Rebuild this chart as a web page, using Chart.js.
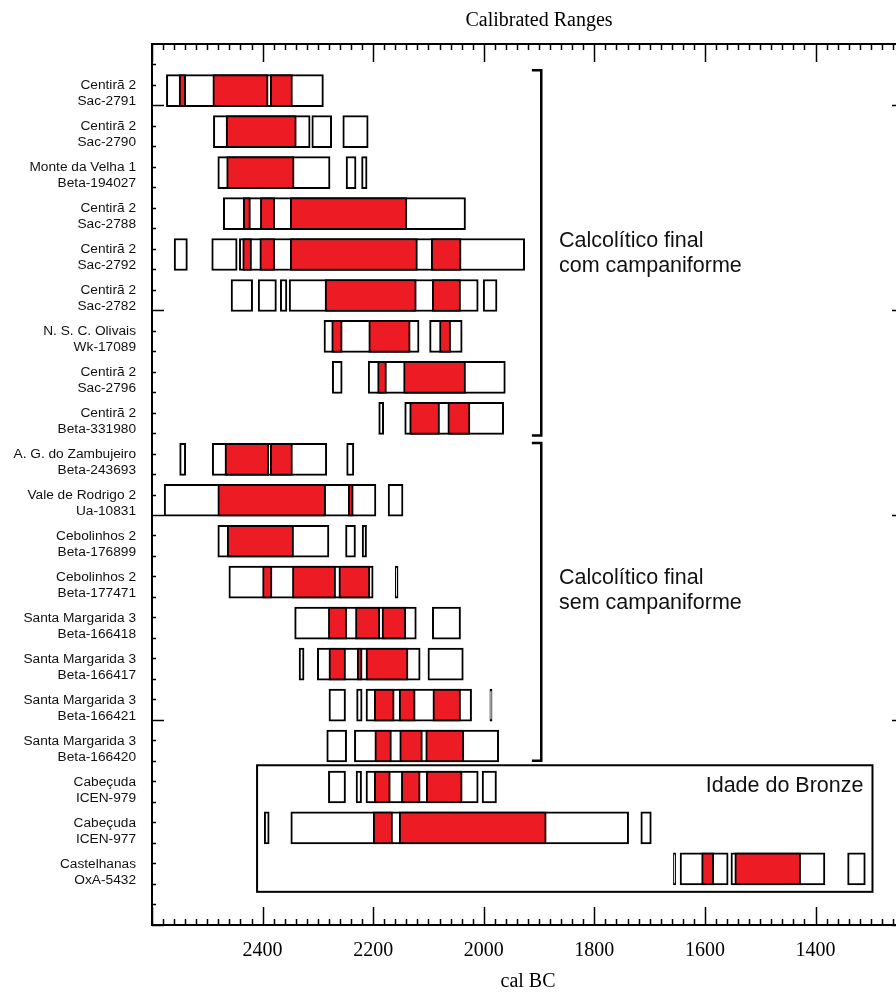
<!DOCTYPE html>
<html>
<head>
<meta charset="utf-8">
<script src="https://cdn.jsdelivr.net/npm/chart.js@4.4.1/dist/chart.umd.min.js"></script>
<style>
  html, body { margin: 0; padding: 0; background: #fff; overflow: hidden; width: 896px; height: 992px; }
  #wrap { width: 910px; height: 992px; }
</style>
</head>
<body>
<div id="wrap"><canvas id="chart-ranges" width="910" height="992"></canvas></div>
<script>
// samples, top to bottom
const sites = ['Centirã 2', 'Centirã 2', 'Monte da Velha 1', 'Centirã 2', 'Centirã 2', 'Centirã 2',
  'N. S. C. Olivais', 'Centirã 2', 'Centirã 2', 'A. G. do Zambujeiro', 'Vale de Rodrigo 2',
  'Cebolinhos 2', 'Cebolinhos 2', 'Santa Margarida 3', 'Santa Margarida 3', 'Santa Margarida 3',
  'Santa Margarida 3', 'Cabeçuda', 'Cabeçuda', 'Castelhanas'];
const labCodes = ['Sac-2791', 'Sac-2790', 'Beta-194027', 'Sac-2788', 'Sac-2792', 'Sac-2782',
  'Wk-17089', 'Sac-2796', 'Beta-331980', 'Beta-243693', 'Ua-10831', 'Beta-176899', 'Beta-177471',
  'Beta-166418', 'Beta-166417', 'Beta-166421', 'Beta-166420', 'ICEN-979', 'ICEN-977', 'OxA-5432'];

// 95.4% ranges (cal BC), white boxes
const range95 = [
  [[2574, 2290]],
  [[2489, 2314], [2311, 2275], [2255, 2209]],
  [[2481, 2278], [2249, 2231], [2221, 2211]],
  [[2471, 2033]],
  [[2560, 2536], [2492, 2446], [2442, 1926]],
  [[2457, 2418], [2408, 2375], [2368, 2356], [2352, 2010], [2001, 1976]],
  [[2289, 2117], [2098, 2039]],
  [[2274, 2256], [2209, 1961]],
  [[2190, 2181], [2143, 1964]],
  [[2550, 2539], [2491, 2284], [2248, 2235]],
  [[2578, 2195], [2173, 2146]],
  [[2481, 2280], [2250, 2232], [2220, 2212]],
  [[2461, 2200], [2160, 2155]],
  [[2342, 2122], [2093, 2042]],
  [[2334, 2325], [2301, 2115], [2101, 2037]],
  [[2280, 2250], [2230, 2220], [2213, 2022], [1989, 1985]],
  [[2284, 2248], [2234, 1973]],
  [[2281, 2250], [2231, 2221], [2213, 2010], [2003, 1977]],
  [[2397, 2388], [2349, 1738], [1716, 1697]],
  [[1657, 1653], [1645, 1558], [1553, 1383], [1342, 1310]]
];

// 68.2% ranges (cal BC), red boxes
const range68 = [
  [[2551, 2539], [2490, 2390], [2386, 2346]],
  [[2466, 2339]],
  [[2465, 2343]],
  [[2435, 2422], [2404, 2378], [2350, 2139]],
  [[2436, 2420], [2405, 2378], [2350, 2120], [2095, 2041]],
  [[2287, 2122], [2093, 2042]],
  [[2275, 2256], [2208, 2133], [2080, 2060]],
  [[2192, 2176], [2145, 2033]],
  [[2134, 2080], [2065, 2025]],
  [[2468, 2389], [2386, 2346]],
  [[2481, 2286], [2245, 2236]],
  [[2464, 2344]],
  [[2400, 2383], [2346, 2268], [2262, 2206]],
  [[2281, 2248], [2232, 2188], [2184, 2141]],
  [[2280, 2250], [2229, 2220], [2213, 2137]],
  [[2198, 2162], [2153, 2124], [2092, 2042]],
  [[2197, 2167], [2152, 2111], [2105, 2036]],
  [[2198, 2169], [2149, 2115], [2104, 2039]],
  [[2200, 2165], [2153, 1887]],
  [[1606, 1584], [1546, 1427]]
];

const yearTicks = [2400, 2200, 2000, 1800, 1600, 1400];

// group brackets and labels (years / row units)
const groups = [
  { from: -0.5, to: 8.42, lines: ['Calcolítico final', 'com campaniforme'], row: 3.82 },
  { from: 8.6, to: 16.36, lines: ['Calcolítico final', 'sem campaniforme'], row: 12.05 }
];
const bronze = { from: 2410, to: 1297, top: 16.47, bottom: 19.56, label: 'Idade do Bronze' };

const toBars = list => list.flatMap((ranges, i) => ranges.map(r => ({ x: r, y: i })));

const SANS = "'Liberation Sans', Arial, sans-serif";
const SERIF = "'Liberation Serif', 'Times New Roman', serif";

// frame, inward ticks, brackets, notes
const decorations = {
  id: 'decorations',
  afterDatasetsDraw(chart) {
    const { ctx, chartArea: a, scales: { x, y } } = chart;
    const seg = (x1, y1, x2, y2) => { ctx.beginPath(); ctx.moveTo(x1, y1); ctx.lineTo(x2, y2); ctx.stroke(); };
    ctx.save();
    ctx.strokeStyle = '#000';

    // ticks along top and bottom
    ctx.lineWidth = 1.5;
    for (let v = 2600; v >= x.min; v -= 20) {
      const px = Math.round(x.getPixelForValue(v)) + 0.5;
      const len = v % 200 === 0 ? 18 : 6;
      seg(px, a.bottom, px, a.bottom - len);
      seg(px, a.top, px, a.top + len);
    }
    // ticks along left and right
    for (let k = -3; k <= 40; k++) {
      const v = 0.36 + 0.5 * k;
      if (v <= y.min || v >= y.max) continue;
      const py = Math.round(y.getPixelForValue(v)) + 0.5;
      const len = k % 10 === 0 ? 12 : 4;
      seg(a.left, py, a.left + len, py);
      seg(a.right, py, a.right - len, py);
    }
    ctx.lineWidth = 2;
    ctx.strokeRect(a.left, a.top, a.width, a.height);

    // brackets
    ctx.lineWidth = 2.5;
    const bx = x.getPixelForValue(1896), sx = x.getPixelForValue(1913);
    ctx.font = '21.5px ' + SANS;
    ctx.fillStyle = '#111';
    ctx.textAlign = 'left';
    ctx.textBaseline = 'alphabetic';
    groups.forEach(g => {
      const t = y.getPixelForValue(g.from), b = y.getPixelForValue(g.to);
      ctx.beginPath();
      ctx.moveTo(sx, t); ctx.lineTo(bx, t); ctx.lineTo(bx, b); ctx.lineTo(sx, b);
      ctx.stroke();
      const ty = y.getPixelForValue(g.row);
      g.lines.forEach((s, j) => ctx.fillText(s, x.getPixelForValue(1864), ty + j * 25));
    });

    // Bronze Age box
    ctx.lineWidth = 2;
    const l = x.getPixelForValue(bronze.from), r = x.getPixelForValue(bronze.to);
    const t = y.getPixelForValue(bronze.top), b = y.getPixelForValue(bronze.bottom);
    ctx.strokeRect(l, t, r - l, b - t);
    ctx.textAlign = 'right';
    ctx.fillText(bronze.label, r - 9, y.getPixelForValue(17.12));

    // title
    ctx.font = '20px ' + SERIF;
    ctx.fillStyle = '#000';
    ctx.textAlign = 'center';
    ctx.fillText('Calibrated Ranges', 539, 26);
    ctx.restore();
  }
};

new Chart(document.getElementById('chart-ranges'), {
  type: 'bar',
  data: {
    datasets: [
      {
        label: '68.2%',
        data: toBars(range68),
        backgroundColor: '#ed1c24',
        borderColor: '#000',
        borderWidth: 2,
        borderSkipped: false,
        barThickness: 32,
        grouped: false,
        order: 1
      },
      {
        label: '95.4%',
        data: toBars(range95),
        backgroundColor: '#fff',
        borderColor: '#000',
        borderWidth: 2,
        borderSkipped: false,
        barThickness: 32,
        grouped: false,
        order: 2
      }
    ]
  },
  options: {
    indexAxis: 'y',
    responsive: false,
    animation: false,
    layout: { padding: { left: 0, right: 6, top: 44, bottom: 0 } },
    plugins: { legend: { display: false }, tooltip: { enabled: false } },
    scales: {
      x: {
        type: 'linear',
        reverse: true,
        min: 1240,
        max: 2600,
        offset: false,
        grid: { display: false, drawTicks: false },
        border: { display: false },
        afterBuildTicks: s => { s.ticks = yearTicks.map(v => ({ value: v })); },
        afterFit: s => { s.height = 67; },
        ticks: {
          autoSkip: false,
          maxRotation: 0,
          padding: 14,
          color: '#000',
          font: { family: SERIF, size: 20 },
          callback: v => String(v)
        },
        title: {
          display: true,
          text: 'cal BC',
          color: '#000',
          padding: 0,
          font: { family: SERIF, size: 20, lineHeight: 1 }
        }
      },
      y: {
        type: 'linear',
        reverse: true,
        min: -1.14,
        max: 20.37,
        offset: false,
        grid: { display: false, drawTicks: false },
        border: { display: false },
        afterBuildTicks: s => { s.ticks = sites.map((_, i) => ({ value: i })); },
        afterFit: s => { s.width = 152; },
        ticks: {
          autoSkip: false,
          padding: 16,
          labelOffset: 3,
          color: '#111',
          font: { family: SANS, size: 13.7, lineHeight: 1.17 },
          callback: v => [sites[v], labCodes[v]]
        }
      }
    }
  },
  plugins: [decorations]
});
</script>
</body>
</html>
